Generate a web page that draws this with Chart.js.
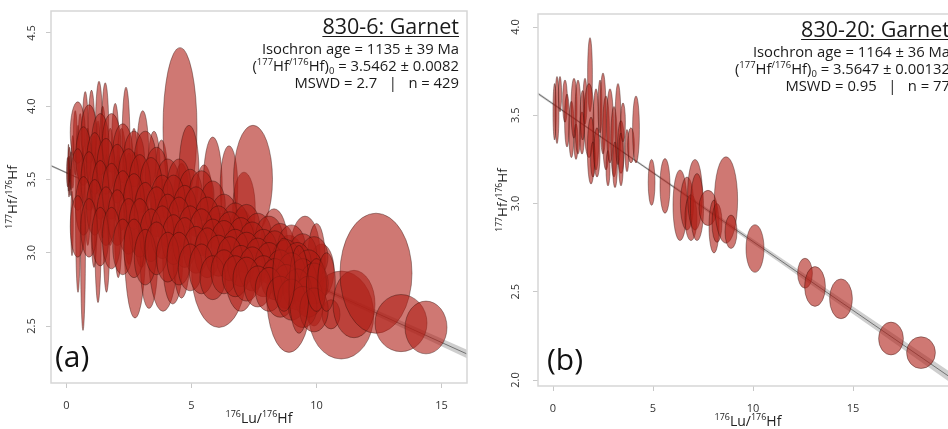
<!DOCTYPE html>
<html><head><meta charset="utf-8">
<script src="https://cdn.jsdelivr.net/npm/chart.js@4.4.0/dist/chart.umd.min.js"></script>
<style>
html,body{margin:0;padding:0;width:948px;height:429px;overflow:hidden;background:#fff;}
#ca{position:absolute;left:0;top:0;}
#cb{position:absolute;left:474px;top:0;}
</style></head><body>
<canvas id="ca" width="474" height="429"></canvas>
<canvas id="cb" width="492" height="429"></canvas>
<script>
// ---------- Panel (a): 830-6 Garnet ----------
// outliers / large ellipses, then the dense body rows
const A_X  = [0.05,0.10,0.12,0.15,0.08,0.18,0.22,0.25,0.35,0.46,0.55,0.66,0.75,0.85,1.00,1.10,1.26,1.30,1.45,1.55,1.60,1.75,1.95,2.07,2.20,2.38,2.50,2.74,2.70,3.05,3.00,3.30,3.50,3.80,3.86,4.25,4.54,4.60,4.90,5.50,5.85,6.10,6.50,6.97,7.10,7.46,8.30,8.90,9.54,9.90,10.20,10.00,10.99,10.58,11.50,12.38,13.38,14.38,
  0.45,0.9,1.35,1.8,2.25,2.7,3.15,3.6,4.05,4.5,4.95,5.4,5.85,6.3,6.75,7.2,7.65,8.1,8.55,9.0,9.45,9.9,
  0.68,1.13,1.58,2.03,2.48,2.93,3.38,3.83,4.28,4.73,5.18,5.63,6.08,6.53,6.98,7.43,7.88,8.33,8.78,9.23,9.68,
  0.45,0.9,1.35,1.8,2.25,2.7,3.15,3.6,4.05,4.5,4.95,5.4,5.85,6.3,6.75,7.2,7.65,8.1,8.55,9.0,9.45,9.9,
  0.68,1.13,1.58,2.03,2.48,2.93,3.38,3.83,4.28,4.73,5.18,5.63,6.08,6.53,6.98,7.43,7.88,8.33,8.78,9.23,9.68,
  0.45,0.9,1.35,1.8,2.25,2.7,3.15,3.6,4.05,4.5,4.95,5.4,5.85,6.3,6.75,7.2,7.65,8.1,8.55,9.0,9.45,9.9,
  9.3,8.7,10.0,10.4];
const A_Y  = [3.55,3.52,3.60,3.48,3.58,3.56,3.20,3.62,3.75,3.30,3.65,3.10,3.80,3.45,3.70,3.35,3.28,3.78,3.55,3.82,3.20,3.45,3.70,3.25,3.50,3.72,3.30,3.12,3.55,3.62,3.20,2.95,3.55,3.50,3.05,2.95,3.85,3.15,3.55,3.35,3.45,2.88,3.45,2.95,3.30,3.50,3.05,2.72,3.00,2.75,2.88,2.95,2.575,2.58,2.65,2.86,2.52,2.49,
  3.82,3.81,3.74,3.75,3.68,3.64,3.63,3.54,3.47,3.46,3.40,3.39,3.33,3.25,3.20,3.18,3.13,3.11,3.06,3.04,2.99,2.97,
  3.66,3.61,3.59,3.54,3.52,3.47,3.46,3.36,3.35,3.29,3.28,3.22,3.17,3.14,3.09,3.07,3.02,3.00,2.95,2.93,2.88,
  3.50,3.49,3.43,3.42,3.36,3.35,3.29,3.28,3.22,3.21,3.15,3.14,3.08,3.07,3.02,3.00,2.95,2.93,2.88,2.86,2.81,2.79,
  3.32,3.31,3.25,3.24,3.18,3.17,3.12,3.14,3.09,3.07,3.02,3.00,2.98,2.96,2.91,2.89,2.84,2.82,2.77,2.75,2.70,
  3.18,3.17,3.11,3.10,3.04,3.03,2.97,3.03,2.97,2.96,2.90,2.89,2.83,2.87,2.84,2.82,2.77,2.75,2.70,2.68,2.63,2.61,
  2.75,2.85,2.78,2.80];
const A_SX = [0.05,0.04,0.05,0.04,0.03,0.05,0.05,0.06,0.08,0.10,0.10,0.10,0.12,0.12,0.15,0.14,0.14,0.15,0.15,0.14,0.14,0.18,0.15,0.16,0.20,0.16,0.22,0.44,0.15,0.25,0.30,0.35,0.25,0.25,0.60,0.40,0.68,0.40,0.40,0.35,0.38,1.10,0.35,0.70,0.45,0.78,0.55,0.90,0.60,0.45,0.50,0.35,1.30,0.36,0.84,1.44,1.04,0.84,
  0.30,0.32,0.35,0.37,0.40,0.42,0.44,0.45,0.46,0.47,0.48,0.50,0.50,0.52,0.52,0.53,0.54,0.54,0.55,0.55,0.56,0.56,
  0.31,0.33,0.36,0.38,0.41,0.43,0.45,0.46,0.47,0.48,0.49,0.51,0.51,0.52,0.53,0.54,0.54,0.55,0.56,0.56,0.57,
  0.29,0.32,0.34,0.37,0.39,0.42,0.43,0.45,0.46,0.47,0.49,0.49,0.50,0.52,0.53,0.53,0.54,0.55,0.55,0.56,0.56,0.57,
  0.32,0.33,0.37,0.38,0.41,0.44,0.45,0.46,0.47,0.48,0.50,0.51,0.52,0.52,0.53,0.54,0.55,0.55,0.56,0.57,0.57,
  0.30,0.33,0.34,0.37,0.40,0.41,0.44,0.46,0.46,0.48,0.48,0.50,0.51,0.52,0.52,0.54,0.54,0.55,0.56,0.56,0.57,0.57,
  0.40,0.45,0.40,0.35];
const A_SY = [0.10,0.14,0.12,0.09,0.16,0.13,0.22,0.18,0.22,0.57,0.30,0.63,0.30,0.40,0.41,0.45,0.62,0.39,0.45,0.34,0.47,0.40,0.32,0.42,0.35,0.41,0.38,0.565,0.30,0.35,0.30,0.33,0.28,0.27,0.45,0.30,0.55,0.46,0.32,0.25,0.34,0.39,0.28,0.35,0.25,0.37,0.25,0.40,0.25,0.25,0.18,0.25,0.30,0.10,0.23,0.41,0.195,0.18,
  0.21,0.20,0.21,0.20,0.20,0.19,0.20,0.18,0.17,0.18,0.17,0.17,0.16,0.15,0.14,0.15,0.14,0.14,0.14,0.15,0.14,0.14,
  0.20,0.21,0.19,0.20,0.19,0.20,0.19,0.17,0.18,0.17,0.17,0.16,0.15,0.14,0.15,0.14,0.14,0.15,0.14,0.14,0.14,
  0.21,0.20,0.20,0.19,0.20,0.19,0.19,0.17,0.18,0.17,0.17,0.16,0.15,0.15,0.14,0.14,0.15,0.14,0.14,0.14,0.15,0.14,
  0.20,0.19,0.20,0.19,0.19,0.20,0.18,0.18,0.17,0.17,0.16,0.17,0.14,0.15,0.14,0.15,0.14,0.14,0.15,0.14,0.14,
  0.21,0.20,0.20,0.21,0.19,0.20,0.19,0.18,0.17,0.18,0.16,0.17,0.15,0.15,0.14,0.15,0.14,0.15,0.14,0.14,0.14,0.15,
  0.30,0.25,0.18,0.20];
const A_ISO_X = [-0.62, 16.02];
const A_ISO_Y = [3.594, 2.309];
const A_ENV_X = [-0.62, 2, 4, 6, 8, 10, 12, 14, 16.02];
const A_ENV_UP = [3.601, 3.397, 3.242, 3.090, 2.939, 2.788, 2.639, 2.490, 2.338];
const A_ENV_LO = [3.587, 3.387, 3.232, 3.076, 2.919, 2.760, 2.601, 2.442, 2.280];
const A_XTICKS = [0, 5, 10, 15];
const A_YTICKS = [2.5, 3.0, 3.5, 4.0, 4.5];
const A_XRANGE = [-0.62, 16.02];
const A_YRANGE = [2.111, 4.65];
const A_TITLE = "830-6: Garnet";
const A_AGE = "Isochron age = 1135 ± 39 Ma";
const A_INIT = " = 3.5462 ± 0.0082";
const A_MSWD = "MSWD = 2.7   |   n = 429";
const A_TAG = "(a)";

// ---------- Panel (b): 830-20 Garnet ----------
const B_X  = [0.08,0.20,0.35,0.60,0.70,0.92,1.05,1.15,1.25,1.45,1.48,1.60,1.85,1.80,1.90,2.00,2.15,2.20,2.35,2.50,2.65,2.75,2.85,3.05,3.10,3.25,3.40,3.40,3.50,3.70,3.90,4.15,
  4.93,5.60,6.35,6.70,6.90,7.10,7.20,7.75,8.05,8.20,8.65,8.90,10.10,12.60,13.10,14.40,16.90,18.40];
const B_Y  = [3.52,3.53,3.62,3.58,3.47,3.42,3.54,3.35,3.49,3.40,3.50,3.58,3.73,3.47,3.30,3.25,3.42,3.29,3.55,3.51,3.40,3.20,3.44,3.35,3.22,3.45,3.32,3.25,3.46,3.30,3.33,3.42,
  3.12,3.10,2.99,3.00,2.92,3.05,2.98,2.975,2.87,2.89,3.02,2.84,2.745,2.605,2.53,2.46,2.235,2.155];
const B_SX = [0.08,0.10,0.08,0.12,0.12,0.13,0.15,0.10,0.15,0.12,0.12,0.10,0.12,0.25,0.18,0.12,0.15,0.15,0.10,0.15,0.17,0.10,0.17,0.16,0.12,0.15,0.17,0.12,0.12,0.10,0.17,0.17,
  0.17,0.25,0.35,0.33,0.30,0.37,0.33,0.45,0.25,0.25,0.58,0.30,0.45,0.37,0.52,0.57,0.62,0.72];
const B_SY = [0.16,0.19,0.10,0.12,0.15,0.16,0.17,0.10,0.21,0.12,0.14,0.13,0.21,0.21,0.19,0.10,0.23,0.14,0.15,0.23,0.21,0.10,0.21,0.20,0.13,0.23,0.15,0.15,0.11,0.12,0.10,0.19,
  0.13,0.155,0.20,0.15,0.13,0.20,0.19,0.10,0.15,0.11,0.245,0.095,0.135,0.085,0.113,0.113,0.093,0.09];
const B_ISO_X = [-0.75, 20.25];
const B_ISO_Y = [3.623, 1.985];
const B_ENV_X = [-0.75, 2, 4, 6, 8, 10, 12, 14, 16, 18, 20.25];
const B_ENV_UP = [3.631,3.415,3.259,3.105,2.952,2.799,2.646,2.493,2.340,2.187,2.015];
const B_ENV_LO = [3.615,3.403,3.247,3.089,2.930,2.771,2.612,2.453,2.294,2.135,1.955];
const B_XTICKS = [0, 5, 10, 15];
const B_YTICKS = [2.0, 2.5, 3.0, 3.5, 4.0];
const B_XRANGE = [-0.75, 20.25];
const B_YRANGE = [1.966, 4.074];
const B_TITLE = "830-20: Garnet";
const B_AGE = "Isochron age = 1164 ± 36 Ma";
const B_INIT = " = 3.5647 ± 0.00132";
const B_MSWD = "MSWD = 0.95   |   n = 77";
const B_TAG = "(b)";

// ---------- rendering ----------
const FONT = '"Open Sans", "Noto Sans", sans-serif';

function drawRich(ctx, segs, x, y, size, align, color) {
  const small = size * 0.64;
  let w = 0;
  segs.forEach(s => { ctx.font = (s[1] === 'n' ? size : small) + 'px ' + FONT; w += ctx.measureText(s[0]).width; });
  let cx = align === 'right' ? x - w : (align === 'center' ? x - w / 2 : x);
  const start = cx;
  ctx.fillStyle = color;
  ctx.textAlign = 'left';
  ctx.textBaseline = 'alphabetic';
  segs.forEach(s => {
    const sz = s[1] === 'n' ? size : small;
    ctx.font = sz + 'px ' + FONT;
    const dy = s[1] === 'sup' ? -size * 0.40 : (s[1] === 'sub' ? size * 0.22 : 0);
    ctx.fillText(s[0], cx, y + dy);
    cx += ctx.measureText(s[0]).width;
  });
  return { left: start, width: w };
}

const ellipsePlugin = {
  id: 'ellipses',
  afterDatasetsDraw(chart) {
    const ds = chart.data.datasets.find(d => d.isEllipses);
    const xs = chart.scales.x, ys = chart.scales.y, ctx = chart.ctx, a = chart.chartArea;
    ctx.save();
    ctx.beginPath(); ctx.rect(a.left, a.top, a.right - a.left, a.bottom - a.top); ctx.clip();
    ds.data.forEach(d => {
      const cx = xs.getPixelForValue(d.x), cy = ys.getPixelForValue(d.y);
      const rx = Math.abs(xs.getPixelForValue(d.x + d.sx) - cx);
      const ry = Math.abs(ys.getPixelForValue(d.y + d.sy) - cy);
      ctx.beginPath();
      ctx.ellipse(cx, cy, rx, ry, 0, 0, Math.PI * 2);
      ctx.fillStyle = ds.ellipseFill; ctx.fill();
      ctx.lineWidth = 0.65; ctx.strokeStyle = ds.ellipseStroke; ctx.stroke();
    });
    ctx.restore();
  }
};

const annotPlugin = {
  id: 'annot',
  afterDraw(chart, args, o) {
    const ctx = chart.ctx, a = chart.chartArea, ys = chart.scales.y;
    ctx.save();
    ctx.strokeStyle = '#d6d6d6'; ctx.lineWidth = 1.5;
    ctx.strokeRect(a.left, a.top, a.right - a.left, a.bottom - a.top);
    ctx.fillStyle = '#333'; ctx.font = '11px ' + FONT; ctx.textAlign = 'center'; ctx.textBaseline = 'alphabetic';
    o.yticks.forEach(v => {
      const py = ys.getPixelForValue(v);
      ctx.save(); ctx.translate(a.left - o.ytickOff, py); ctx.rotate(-Math.PI / 2);
      ctx.fillText(v.toFixed(1), 0, 0); ctx.restore();
    });
    drawRich(ctx, [['176', 'sup'], ['Lu/', 'n'], ['176', 'sup'], ['Hf', 'n']], (a.left + a.right) / 2, a.bottom + 40, 14, 'center', '#222');
    ctx.save(); ctx.translate(a.left - o.ytitleOff, (a.top + a.bottom) / 2); ctx.rotate(-Math.PI / 2);
    drawRich(ctx, [['177', 'sup'], ['Hf/', 'n'], ['176', 'sup'], ['Hf', 'n']], 0, 0, 13.5, 'center', '#222');
    ctx.restore();
    const R = a.right - 8;
    const t = drawRich(ctx, [[o.title, 'n']], R, a.top + 22.5, 21.5, 'right', '#1a1a1a');
    ctx.strokeStyle = '#1a1a1a'; ctx.lineWidth = 1.2;
    ctx.beginPath(); ctx.moveTo(t.left, a.top + 25.5); ctx.lineTo(t.left + t.width, a.top + 25.5); ctx.stroke();
    drawRich(ctx, [[o.age, 'n']], R, a.top + 42.5, 14.8, 'right', '#1a1a1a');
    drawRich(ctx, [['(', 'n'], ['177', 'sup'], ['Hf', 'n'], ['/176', 'sup'], ['Hf)', 'n'], ['0', 'sub'], [o.init, 'n']], R, a.top + 59.5, 14.8, 'right', '#1a1a1a');
    drawRich(ctx, [[o.mswd, 'n']], R, a.top + 76.5, 14.8, 'right', '#1a1a1a');
    drawRich(ctx, [[o.tag, 'n']], a.left + o.tagOff, a.bottom - 16.5, 30, 'left', '#111');
    ctx.restore();
  }
};

function makeChart(id, P) {
  const ell = P.X.map((x, i) => ({ x: x, y: P.Y[i], sx: P.SX[i], sy: P.SY[i] }));
  const up = P.ENV_X.map((x, i) => ({ x: x, y: P.ENV_UP[i] }));
  const lo = P.ENV_X.map((x, i) => ({ x: x, y: P.ENV_LO[i] }));
  const iso = P.ISO_X.map((x, i) => ({ x: x, y: P.ISO_Y[i] }));
  return new Chart(document.getElementById(id), {
    type: 'scatter',
    data: {
      datasets: [
        { data: up, showLine: true, fill: '+1', backgroundColor: 'rgba(165,165,165,0.55)', borderWidth: 0, pointRadius: 0 },
        { data: lo, showLine: true, fill: false, borderWidth: 0, pointRadius: 0 },
        { data: iso, showLine: true, borderColor: '#1c1c1c', borderWidth: 0.9, pointRadius: 0, fill: false },
        { data: ell, isEllipses: true, showLine: false, pointRadius: 0, pointHoverRadius: 0,
          ellipseFill: 'rgba(175,30,22,0.6)', ellipseStroke: 'rgba(45,12,8,0.6)' }
      ]
    },
    options: {
      responsive: false, animation: false, devicePixelRatio: 1,
      layout: { padding: { left: 0, top: P.padTop, right: P.padRight, bottom: 0 } },
      plugins: {
        legend: { display: false }, tooltip: { enabled: false },
        annot: { yticks: P.YTICKS, ytickOff: P.ytickOff, ytitleOff: P.ytitleOff, title: P.TITLE, age: P.AGE,
                 init: P.INIT, mswd: P.MSWD, tag: P.TAG, tagOff: P.tagOff }
      },
      scales: {
        x: {
          type: 'linear', min: P.XRANGE[0], max: P.XRANGE[1],
          afterBuildTicks: s => { s.ticks = P.XTICKS.map(v => ({ value: v })); },
          afterFit: s => { s.height = P.xHeight; },
          ticks: { color: '#333', font: { family: FONT, size: 11 }, padding: 11, maxRotation: 0 },
          grid: { drawOnChartArea: false, drawTicks: true, tickLength: 5, color: '#c8c8c8' },
          border: { display: false }
        },
        y: {
          type: 'linear', min: P.YRANGE[0], max: P.YRANGE[1],
          afterBuildTicks: s => { s.ticks = P.YTICKS.map(v => ({ value: v })); },
          afterFit: s => { s.width = P.yWidth; },
          ticks: { display: false },
          grid: { drawOnChartArea: false, drawTicks: true, tickLength: 5, color: '#c8c8c8' },
          border: { display: false }
        }
      }
    },
    plugins: [ellipsePlugin, annotPlugin]
  });
}

makeChart('ca', { X: A_X, Y: A_Y, SX: A_SX, SY: A_SY, ISO_X: A_ISO_X, ISO_Y: A_ISO_Y, ENV_X: A_ENV_X, ENV_UP: A_ENV_UP, ENV_LO: A_ENV_LO,
  XTICKS: A_XTICKS, YTICKS: A_YTICKS, XRANGE: A_XRANGE, YRANGE: A_YRANGE, TITLE: A_TITLE, AGE: A_AGE, INIT: A_INIT, MSWD: A_MSWD, TAG: A_TAG,
  padTop: 11, padRight: 7, xHeight: 46, yWidth: 51, ytickOff: 16, ytitleOff: 34, tagOff: 4 });
makeChart('cb', { X: B_X, Y: B_Y, SX: B_SX, SY: B_SY, ISO_X: B_ISO_X, ISO_Y: B_ISO_Y, ENV_X: B_ENV_X, ENV_UP: B_ENV_UP, ENV_LO: B_ENV_LO,
  XTICKS: B_XTICKS, YTICKS: B_YTICKS, XRANGE: B_XRANGE, YRANGE: B_YRANGE, TITLE: B_TITLE, AGE: B_AGE, INIT: B_INIT, MSWD: B_MSWD, TAG: B_TAG,
  padTop: 14, padRight: 8, xHeight: 43, yWidth: 64, ytickOff: 19, ytitleOff: 31, tagOff: 9 });
</script>
</body></html>
